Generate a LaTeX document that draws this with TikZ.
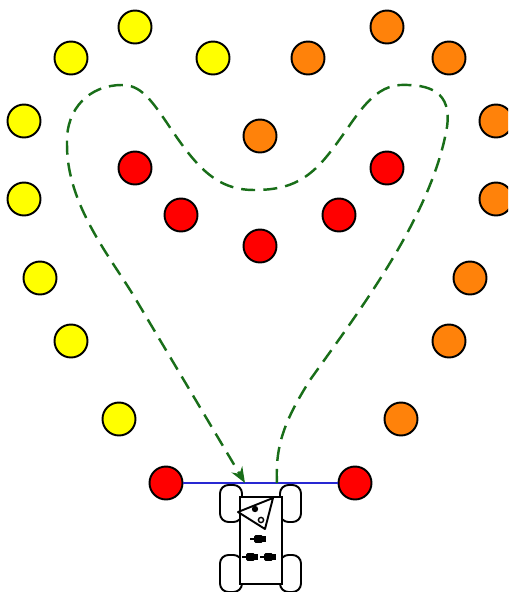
\documentclass[tikz,border=0pt]{standalone}
\usetikzlibrary{arrows.meta}
\definecolor{coneyellow}{RGB}{255,255,0}
\definecolor{coneorange}{RGB}{255,130,10}
\definecolor{conered}{RGB}{255,0,0}
\definecolor{pathgreen}{RGB}{25,110,25}
\definecolor{gateblue}{RGB}{40,40,210}
\begin{document}
\begin{tikzpicture}[x=0.02cm,y=-0.02cm,
  cone/.style={circle,draw=black,line width=1.1pt,minimum size=0.66cm,inner sep=0pt},
  ycone/.style={cone,fill=coneyellow},
  ocone/.style={cone,fill=coneorange},
  rcone/.style={cone,fill=conered},
  route/.style={draw=pathgreen,line width=1.4pt,dash pattern=on 8pt off 4.6pt},
  gate/.style={draw=gateblue,line width=1pt},
  carline/.style={draw=black,line width=1.1pt,fill=white},
  wheel/.style={carline,rounded corners=0.17cm}]
\useasboundingbox (0,0) rectangle (508,592);
\begin{scope}
\clip (0,0) rectangle (508,592);
% yellow cones, left side
\node[ycone] (y1) at (135,27) {};
\node[ycone] (y2) at (71,58) {};
\node[ycone] (y3) at (213,58) {};
\node[ycone] (y4) at (24,121) {};
\node[ycone] (y5) at (24,199) {};
\node[ycone] (y6) at (40,278) {};
\node[ycone] (y7) at (71,341) {};
\node[ycone] (y8) at (119,419) {};
% orange cones, right side
\node[ocone] (o1) at (387,27) {};
\node[ocone] (o2) at (308,58) {};
\node[ocone] (o3) at (449,58) {};
\node[ocone] (o4) at (496,121) {};
\node[ocone] (o5) at (496,199) {};
\node[ocone] (o6) at (470,278) {};
\node[ocone] (o7) at (449,341) {};
\node[ocone] (o8) at (401,419) {};
\node[ocone] (o9) at (260,136) {};
% red cones, inner
\node[rcone] (r1) at (135,168) {};
\node[rcone] (r2) at (181,215) {};
\node[rcone] (r3) at (260,246) {};
\node[rcone] (r4) at (387,168) {};
\node[rcone] (r5) at (339,215) {};
% start gate
\node[rcone] (gl) at (166,483) {};
\node[rcone] (gr) at (355,483) {};
\end{scope}
\draw[gate] (gl.east) -- (gr.west);

% route endpoints
\coordinate (start) at (277,483);
\coordinate (goal) at (245,483);

% planned route
\draw[route,-{Stealth[length=9pt,width=7pt,fill=pathgreen]}] (start)
  .. controls (275,445) and (285,420) .. (310,380)
  .. controls (360,310) and (432,215) .. (447,127)
  .. controls (452,92) and (430,84) .. (400,85)
  .. controls (370,87) and (355,120) .. (334,147)
  .. controls (310,180) and (290,190) .. (254,190)
  .. controls (215,190) and (195,165) .. (167,123)
  .. controls (150,98) and (140,85) .. (122,85)
  .. controls (90,85) and (66,108) .. (67,143)
  .. controls (66,205) and (112,259) .. (135,298)
  -- (goal);

% vehicle: wheels
\draw[wheel] (220,485) rectangle (242,522);
\draw[wheel] (280,485) rectangle (301,522);
\draw[wheel] (220,555) rectangle (242,592);
\draw[wheel] (280,555) rectangle (301,592);
% vehicle: chassis
\draw[carline] (240,497) rectangle (282,584);
% vehicle: sensor mount
\draw[carline,line join=round] (238,512) -- (273,498) -- (265,529) -- cycle;
\fill (255,509) circle (3.2);
\draw[line width=0.8pt] (261,520) circle (2.6);
% vehicle: cameras
\foreach \cx/\cy in {259/539, 251/557, 269/557}{
  \draw[line width=1.1pt] (\cx-9,\cy) -- (\cx-4,\cy);
  \fill[rounded corners=0.8pt] (\cx-5,\cy-3.8) rectangle (\cx+4,\cy+3.8);
  \fill (\cx+3,\cy-2.6) rectangle (\cx+6.5,\cy+2.6);
}
\end{tikzpicture}
\end{document}
